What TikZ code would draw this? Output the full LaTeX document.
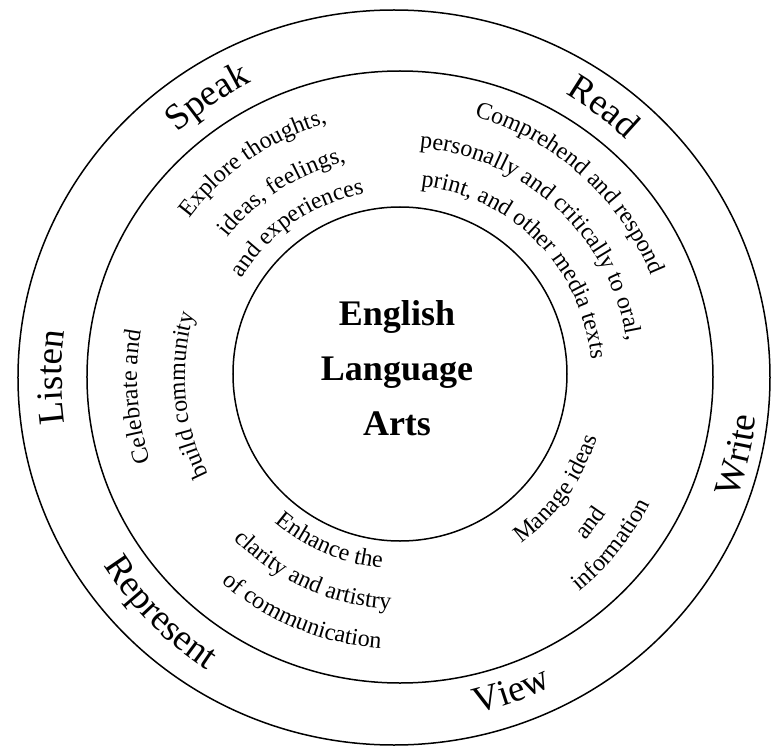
\documentclass[tikz,border=0pt]{standalone}
\usepackage{fontspec}
\setmainfont{Liberation Serif}
\usetikzlibrary{decorations.text}
% #1 baseline radius, #2 centre angle, #3 font size, #4 text
\newcommand\cwtext[4]{%
  \path[decorate,decoration={text along path,text align=center,
      text={|\fontsize{#3}{#3}\selectfont|#4}}]
    ({#2+70}:#1pt) arc[start angle={#2+70}, end angle={#2-70}, radius=#1pt];}
\newcommand\ccwtext[4]{%
  \path[decorate,decoration={text along path,text align=center,
      text={|\fontsize{#3}{#3}\selectfont|#4}}]
    ({#2-70}:#1pt) arc[start angle={#2-70}, end angle={#2+70}, radius=#1pt];}
\begin{document}
\begin{tikzpicture}[x=1pt,y=1pt,
  ring/.style={line width=1.5pt},
  title/.style={font=\fontsize{36}{36}\selectfont\bfseries, anchor=base, inner sep=0pt}]
\useasboundingbox (-400,-370) rectangle (371,377);
\draw[ring] (-6,-0.5) ellipse [x radius=376pt, y radius=367.5pt];
\draw[ring] (0,0) ellipse [x radius=313pt, y radius=306pt];
\draw[ring] (0,3) circle [radius=167pt];
\node[title] (ela1) at (-3,52) {English};
\node[title] (ela2) at (-3,-3) {Language};
\node[title] (ela3) at (-3,-58) {Arts};
% outer ring
\cwtext{330}{124.5}{37}{Speak}
\cwtext{328}{53}{37}{Read}
\cwtext{338}{180}{37}{Listen}
\ccwtext{351}{224.5}{37}{Represent}
\ccwtext{345}{-70.5}{37}{View}
\ccwtext{358}{-13}{37}{Write}
% middle ring
\cwtext{264}{124.5}{24}{Explore thoughts,}
\cwtext{222}{122.5}{24}{ideas, feelings,}
\cwtext{187}{124.5}{24}{and experiences}
\cwtext{271}{48}{24}{Comprehend and respond}
\cwtext{230}{47}{24}{personally and critically to oral,}
\cwtext{192}{44.5}{24}{print, and other media texts}
\cwtext{263}{184.3}{24}{Celebrate and}
\cwtext{215}{185}{24}{build community}
\ccwtext{192}{247}{24}{Enhance the}
\ccwtext{232}{246}{24}{clarity and artistry}
\ccwtext{272}{247.5}{24}{of communication}
\ccwtext{206}{-35.5}{24}{Manage ideas}
\ccwtext{247}{-37.5}{24}{and}
\ccwtext{280}{-38.5}{24}{information}
\end{tikzpicture}
\end{document}
